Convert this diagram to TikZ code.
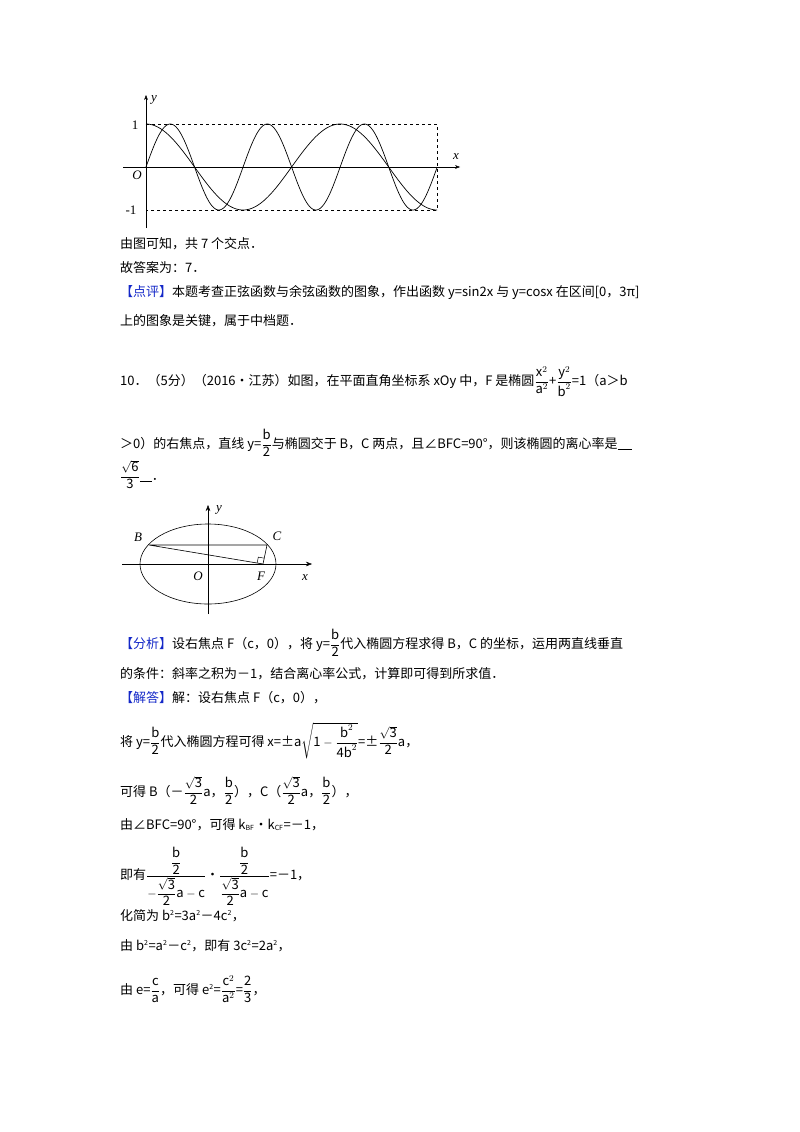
\documentclass[tikz,border=0pt]{standalone}
\usepackage{amsmath}
\usepackage{fontspec}
\setmainfont{Noto Sans CJK SC}
\newfontfamily\lat{Liberation Serif}
\usetikzlibrary{calc,arrows.meta}
\definecolor{bl}{RGB}{20,40,200}
\newcommand\T[1]{\mbox{#1}}
\newcommand\fr[2]{\dfrac{\T{#1}}{\T{#2}}}
\begin{document}
\begin{tikzpicture}[x=1pt,y=1pt,
  txt/.style={anchor=base west,inner sep=0,font=\fontsize{13}{15}\selectfont},
  lab/.style={inner sep=0,font=\lat\itshape\fontsize{13}{15}\selectfont},
  curve/.style={line width=0.7pt},
  dsh/.style={dashed,line width=0.6pt}]
\useasboundingbox (0,0) rectangle (800,-1132);
% graph 1
\coordinate (o1) at (146,-167);
\draw[-{Stealth[length=5pt]}] (123,-167) -- (460,-167);
\draw[-{Stealth[length=5pt]}] (146,-228) -- (146,-95);
\draw[dsh] (146,-124) -- (437,-124) -- (437,-210) -- (146,-210);
\draw[curve,domain=0:3*pi,samples=240,smooth] plot ({146+30.9*\x},{-167+43*sin(2*\x r)});
\draw[curve,domain=0:3*pi,samples=240,smooth] plot ({146+30.9*\x},{-167+43*cos(\x r)});
\node[lab] (ly1) at (154,-100) {y};
\node[lab] (lx1) at (456,-157) {x};
\node[lab] (lo1) at (137,-175) {O};
\node[inner sep=0,font=\lat\fontsize{13}{15}\selectfont] (l1) at (135,-125) {1};
\node[inner sep=0,font=\lat\fontsize{13}{15}\selectfont] (lm1) at (131,-210) {-1};
% text
\node[txt] (t1) at (120,-248) {由图可知，共 7 个交点．};
\node[txt] (t2) at (120,-272) {故答案为：7．};
\node[txt] (t3) at (120,-296) {\textcolor{bl}{【点评】}本题考查正弦函数与余弦函数的图象，作出函数 y=sin2x 与 y=cosx 在区间[0，3π]};
\node[txt] (t4) at (120,-325) {上的图象是关键，属于中档题．};
\node[txt] (t5) at (120,-385) {10．（5分）（2016•江苏）如图，在平面直角坐标系 xOy 中，F 是椭圆$\dfrac{\T{x}^2}{\T{a}^2}$+$\dfrac{\T{y}^2}{\T{b}^2}$=1（a＞b};
\node[txt] (t6) at (120,-448) {＞0）的右焦点，直线 y=$\fr{b}{2}$与椭圆交于 B，C 两点，且∠BFC=90°，则该椭圆的离心率是\underline{\hspace{14pt}}};
\node[txt] (t7) at (120,-480) {$\dfrac{\sqrt{\T{6}}}{\T{3}}$\underline{\hspace{12pt}}．};
% ellipse
\coordinate (O) at (208,-564);
\draw[line width=0.6pt] (O) ellipse [x radius=68,y radius=40];
\draw[-{Stealth[length=6pt]}] (122,-564) -- (312,-564);
\draw[-{Stealth[length=6pt]}] (208,-614) -- (208,-505);
\coordinate (B) at (149,-545);
\coordinate (C) at (267,-545);
\coordinate (F) at (263,-564);
\draw[line width=0.6pt] (B) -- (C) -- (F) -- (B);
\draw[line width=0.5pt] ($(F)!6pt!(C)$) -- ($($(F)!6pt!(C)$)+($(F)!6pt!(B)$)-(F)$) -- ($(F)!6pt!(B)$);
\node[lab] (lB) at (138,-537) {B};
\node[lab] (lC) at (277,-536) {C};
\node[lab] (lF) at (261,-576) {F};
\node[lab] (lO) at (198,-576) {O};
\node[lab] (lx2) at (305,-578) {x};
\node[lab] (ly2) at (219,-510) {y};
% solution
\node[txt] (s1) at (120,-648) {\textcolor{bl}{【分析】}设右焦点 F（c，0），将 y=$\fr{b}{2}$代入椭圆方程求得 B，C 的坐标，运用两直线垂直};
\node[txt] (s2) at (120,-678) {的条件：斜率之积为－1，结合离心率公式，计算即可得到所求值．};
\node[txt] (s3) at (120,-702) {\textcolor{bl}{【解答】}解：设右焦点 F（c，0），};
\node[txt] (s4) at (120,-746) {将 y=$\fr{b}{2}$代入椭圆方程可得 x=±a$\sqrt{\T{1}-\dfrac{\T{b}^2}{\T{4b}^2}}$=±$\dfrac{\sqrt{\T{3}}}{\T{2}}$a，};
\node[txt] (s5) at (120,-796) {可得 B（－$\dfrac{\sqrt{\T{3}}}{\T{2}}$a，$\fr{b}{2}$），C（$\dfrac{\sqrt{\T{3}}}{\T{2}}$a，$\fr{b}{2}$），};
\node[txt] (s6) at (120,-829) {由∠BFC=90°，可得 k$_{\T{\scriptsize BF}}$•k$_{\T{\scriptsize CF}}$=－1，};
\node[txt] (s7) at (120,-879) {即有$\dfrac{\fr{b}{2}}{-\dfrac{\sqrt{\T{3}}}{\T{2}}\T{a}-\T{c}}$•$\dfrac{\fr{b}{2}}{\dfrac{\sqrt{\T{3}}}{\T{2}}\T{a}-\T{c}}$=－1，};
\node[txt] (s8) at (120,-920) {化简为 b$^{\T{\scriptsize 2}}$=3a$^{\T{\scriptsize 2}}$－4c$^{\T{\scriptsize 2}}$，};
\node[txt] (s9) at (120,-950) {由 b$^{\T{\scriptsize 2}}$=a$^{\T{\scriptsize 2}}$－c$^{\T{\scriptsize 2}}$，即有 3c$^{\T{\scriptsize 2}}$=2a$^{\T{\scriptsize 2}}$，};
\node[txt] (s10) at (120,-994) {由 e=$\fr{c}{a}$，可得 e$^{\T{\scriptsize 2}}$=$\dfrac{\T{c}^2}{\T{a}^2}$=$\fr{2}{3}$，};
\end{tikzpicture}
\end{document}
